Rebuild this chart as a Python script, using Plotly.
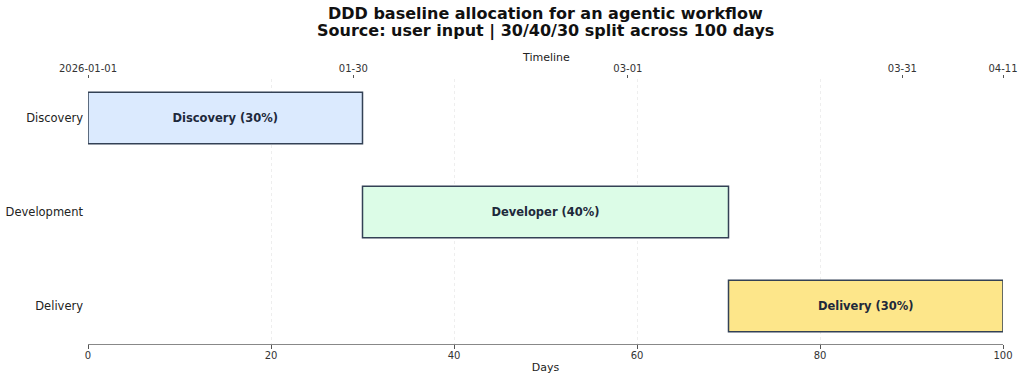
import plotly.graph_objects as go

phases = ["Discovery", "Development", "Delivery"]
bar_labels = ["Discovery (30%)", "Developer (40%)", "Delivery (30%)"]
starts = [0, 30, 70]
durations = [30, 40, 30]
colors = ["#dbeafe", "#dcfce7", "#fde68a"]
day_ticks = [0, 20, 40, 60, 80, 100]
date_tick_days = [0, 29, 59, 89, 100]
date_tick_labels = ["2026-01-01", "01-30", "03-01", "03-31", "04-11"]
title_lines = ["DDD baseline allocation for an agentic workflow",
               "Source: user input | 30/40/30 split across 100 days"]

FONT = "DejaVu Sans"
W, H = 1024, 380
ML, MR, MT, MB = 88, 21, 79, 36
PH = H - MT - MB

fig = go.Figure()
fig.add_trace(go.Bar(
    y=phases, x=durations, base=starts, orientation="h",
    marker=dict(color=colors, line=dict(color="#334155", width=1.5)),
    width=0.55,
    text=bar_labels, textposition="inside", insidetextanchor="middle",
    textfont=dict(family=FONT, size=11.5, color="#1e293b", weight="bold"),
    hoverinfo="skip", showlegend=False,
))
# invisible trace for top axis
fig.add_trace(go.Scatter(x=[0, 100], y=[phases[0], phases[0]], xaxis="x2",
                         mode="markers", marker=dict(opacity=0), showlegend=False,
                         hoverinfo="skip"))

for line, py in zip(title_lines, [13, 31]):
    fig.add_annotation(
        text=f"<b>{line}</b>", xref="paper", x=0.5, xanchor="center",
        yref="paper", y=(H - MB - py) / PH, yanchor="middle", showarrow=False,
        font=dict(family=FONT, size=16, color="#111111"),
    )
fig.add_annotation(
    text="Timeline", xref="paper", x=0.5, xanchor="center",
    yref="paper", y=(H - MB - 57) / PH, yanchor="middle", showarrow=False,
    font=dict(family=FONT, size=11, color="#222222"),
)

fig.update_layout(
    width=W, height=H,
    margin=dict(l=ML, r=MR, t=MT, b=MB, autoexpand=False),
    paper_bgcolor="white", plot_bgcolor="white",
    font=dict(family=FONT, color="#222222"),
    xaxis=dict(
        range=[0, 100], tickvals=day_ticks, ticks="outside", ticklen=3.5,
        tickcolor="#555555", showline=True, linecolor="#888888", linewidth=1,
        showgrid=True, gridcolor="#eeeeee", griddash="dot", gridwidth=1,
        zeroline=False, automargin=False, ticklabelstandoff=-2,
        tickfont=dict(family=FONT, size=10, color="#333333"),
        title=dict(text="Days", font=dict(family=FONT, size=11, color="#222222"), standoff=3),
    ),
    xaxis2=dict(
        range=[0, 100], overlaying="x", side="top", tickvals=date_tick_days,
        ticktext=date_tick_labels, ticks="outside", ticklen=3.5, tickcolor="#555555",
        showline=False, showgrid=False, zeroline=False, automargin=False,
        ticklabelstandoff=-1,
        tickfont=dict(family=FONT, size=10, color="#333333"),
    ),
    yaxis=dict(
        categoryorder="array", categoryarray=phases, autorange=False,
        range=[2.404, -0.415], showline=False, showgrid=False, ticks="",
        zeroline=False, ticklabelstandoff=4, automargin=False,
        tickfont=dict(family=FONT, size=11.5, color="#222222"),
    ),
)

fig.write_html("out.html", config={"displayModeBar": False},
               post_script="document.body.style.margin='0';")
